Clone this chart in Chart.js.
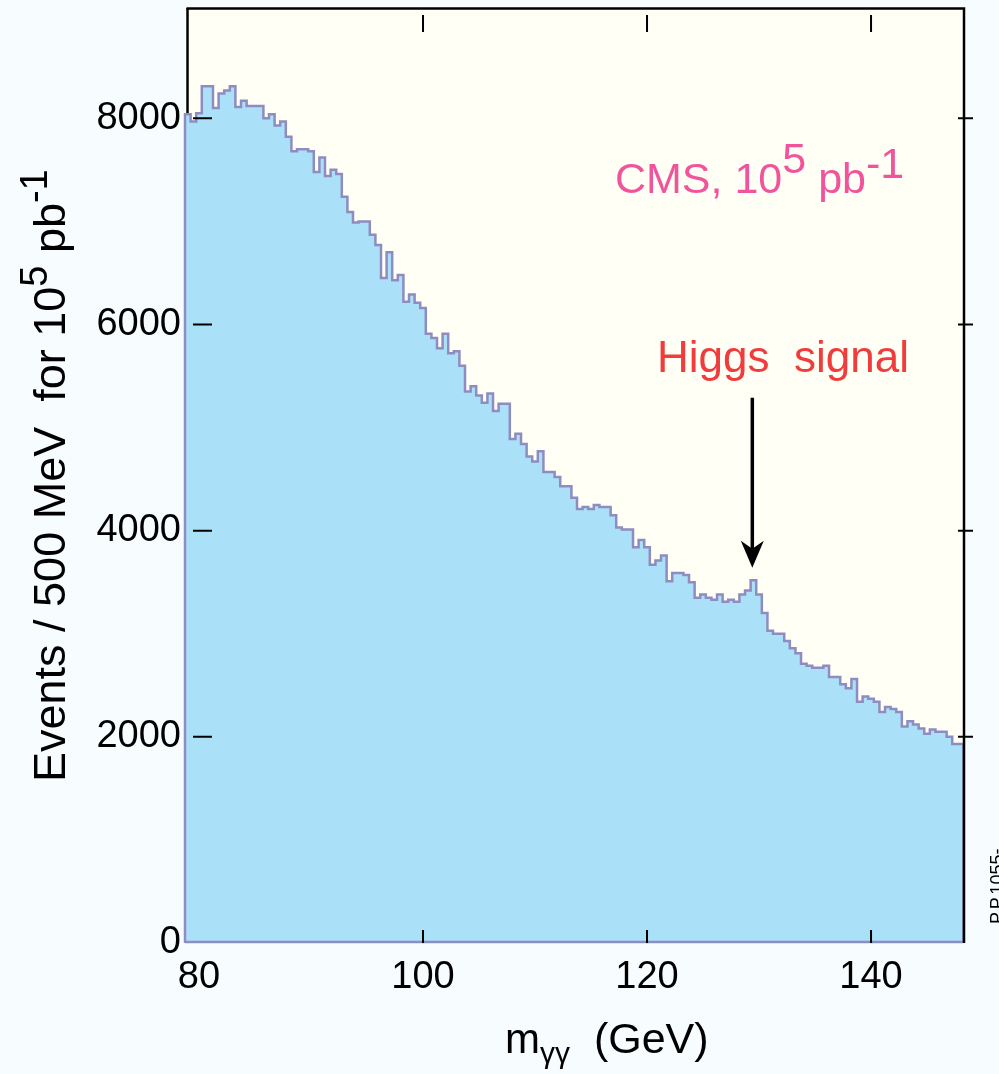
<!DOCTYPE html>
<html lang="en">
<head>
<meta charset="utf-8">
<title>Higgs signal, m_γγ</title>
<script src="https://cdn.jsdelivr.net/npm/chart.js@4/dist/chart.umd.min.js"></script>
<style>
    html, body { margin: 0; padding: 0; background: #f7fdfe; overflow: hidden; }
    canvas { display: block; }
</style>
</head>
<body>
<canvas id="higgs-chart" width="999" height="1074"></canvas>
<script>
// Гистограмма m_γγ: события на бин 500 МэВ для 10^5 pb^-1
const massLow = 78.75;     // ГэВ, левая граница первого бина
const massHigh = 148.3;    // ГэВ, правый край рамки
const binWidth = 0.5;      // ГэВ

const eventsPerBin = [
    8040, 7970, 8050, 8310, 8310, 8100, 8240, 8270, 8310, 8110,
    8170, 8120, 8120, 8120, 8000, 8040, 7930, 7970, 7820, 7680,
    7700, 7700, 7680, 7480, 7620, 7440, 7500, 7460, 7240, 7090,
    6990, 7000, 7000, 6870, 6770, 6450, 6700, 6430, 6480, 6220,
    6290, 6210, 6160, 5910, 5870, 5770, 5910, 5720, 5740, 5600,
    5350, 5400, 5310, 5240, 5330, 5160, 5230, 5230, 4890, 4940,
    4840, 4720, 4670, 4770, 4570, 4570, 4520, 4430, 4430, 4320,
    4210, 4230, 4210, 4250, 4230, 4230, 4150, 4030, 4010, 4010,
    3840, 3910, 3840, 3670, 3710, 3760, 3510, 3590, 3590, 3570,
    3500, 3350, 3380, 3350, 3330, 3380, 3310, 3330, 3310, 3380,
    3420, 3520, 3380, 3200, 3030, 3000, 3000, 2930, 2860, 2810,
    2710, 2690, 2670, 2670, 2690, 2580, 2580, 2510, 2470, 2560,
    2340, 2390, 2370, 2340, 2240, 2290, 2270, 2240, 2100, 2150,
    2120, 2080, 2030, 2070, 2050, 2050, 2000, 1930, 1930
];

const massTicks = [80, 100, 120, 140];
const eventTicks = [0, 2000, 4000, 6000, 8000];
const eventMax = 9070;

// Стрелка "Higgs signal": масса и диапазон по числу событий
const arrowMass = 129.4;
const arrowEvents = [5290, 3640];

const FAMILY = '"Liberation Sans", Arial, Helvetica, sans-serif';

/**
 * Точки ступенчатой линии по левым границам бинов.
 * @returns {Array} - Массив точек {x, y}.
 */
function histogramPoints() {
    const points = [{ x: massLow, y: 0 }];
    eventsPerBin.forEach((n, i) => {
        points.push({ x: massLow + i * binWidth, y: n });
    });
    points.push({ x: massLow + eventsPerBin.length * binWidth, y: 0 });
    return points;
}

/**
 * Рисует строку из кусков с разным размером и сдвигом (индексы).
 * @param {CanvasRenderingContext2D} ctx
 * @param {number} x
 * @param {number} y - базовая линия
 * @param {Array} parts - [{text, size, dy}]
 */
function drawRich(ctx, x, y, parts) {
    let cx = x;
    parts.forEach(p => {
        ctx.font = `${p.size}px ${FAMILY}`;
        ctx.fillText(p.text, cx, y + (p.dy || 0));
        cx += ctx.measureText(p.text).width;
    });
}

// Фон страницы и области графика, левая сторона рамки
const backgroundPlugin = {
    id: 'background',
    beforeDraw(chart) {
        const { ctx, chartArea: a } = chart;
        ctx.save();
        ctx.fillStyle = '#f7fdfe';
        ctx.fillRect(0, 0, chart.width, chart.height);
        ctx.fillStyle = '#fffff5';
        ctx.fillRect(a.left, a.top, a.right - a.left, a.bottom - a.top);
        ctx.strokeStyle = '#000';
        ctx.lineWidth = 2.5;
        ctx.beginPath();
        ctx.moveTo(a.left + 2.5, a.top);
        ctx.lineTo(a.left + 2.5, a.bottom);
        ctx.stroke();
        ctx.restore();
    }
};

// Рамка, засечки, стрелка и подписи поверх гистограммы
const overlayPlugin = {
    id: 'overlay',
    afterDatasetsDraw(chart) {
        const { ctx, chartArea: a, scales: { x, y } } = chart;
        ctx.save();

        // нижняя линия гистограммы
        ctx.strokeStyle = '#8e8cc0';
        ctx.lineWidth = 2.5;
        ctx.beginPath();
        ctx.moveTo(a.left, a.bottom - 1);
        ctx.lineTo(x.getPixelForValue(massLow + eventsPerBin.length * binWidth), a.bottom - 1);
        ctx.stroke();

        // верх и правая сторона рамки
        ctx.strokeStyle = '#000';
        ctx.lineWidth = 2.5;
        ctx.beginPath();
        ctx.moveTo(a.left + 1.5, a.top + 0.5);
        ctx.lineTo(a.right, a.top + 0.5);
        ctx.lineTo(a.right, a.bottom);
        ctx.stroke();

        // засечки
        ctx.lineWidth = 2;
        ctx.beginPath();
        massTicks.forEach(m => {
            const px = x.getPixelForValue(m);
            if (px - a.left < 20) return;
            ctx.moveTo(px, a.top + 7);
            ctx.lineTo(px, a.top + 24);
            ctx.moveTo(px, a.bottom);
            ctx.lineTo(px, a.bottom - 13);
        });
        eventTicks.forEach(n => {
            if (n === 0) return;
            const py = y.getPixelForValue(n);
            ctx.moveTo(a.left + 8, py);
            ctx.lineTo(a.left + 27, py);
            ctx.moveTo(a.right - 6, py);
            ctx.lineTo(a.right + 9, py);
        });
        ctx.stroke();

        // стрелка к пику
        const ax = x.getPixelForValue(arrowMass);
        const aTop = y.getPixelForValue(arrowEvents[0]);
        const aTip = y.getPixelForValue(arrowEvents[1]);
        ctx.lineWidth = 3.5;
        ctx.beginPath();
        ctx.moveTo(ax, aTop);
        ctx.lineTo(ax, aTip - 12);
        ctx.stroke();
        ctx.fillStyle = '#000';
        ctx.beginPath();
        ctx.moveTo(ax - 11.5, aTip - 27);
        ctx.lineTo(ax, aTip - 19);
        ctx.lineTo(ax + 11.5, aTip - 27);
        ctx.lineTo(ax, aTip);
        ctx.closePath();
        ctx.fill();

        // подписи внутри графика
        ctx.textAlign = 'left';
        ctx.textBaseline = 'alphabetic';
        ctx.fillStyle = '#f0559c';
        drawRich(ctx, a.left + 430, a.top + 185, [
            { text: 'CMS, 10', size: 43 },
            { text: '5', size: 43, dy: -20 },
            { text: ' pb', size: 43 },
            { text: '-1', size: 43, dy: -15 }
        ]);
        ctx.fillStyle = '#f03c3c';
        ctx.font = `44px ${FAMILY}`;
        ctx.fillText('Higgs  signal', a.left + 472, a.top + 364);

        ctx.restore();
    },
    afterDraw(chart) {
        const { ctx, chartArea: a } = chart;
        ctx.save();
        ctx.fillStyle = '#000';
        ctx.textAlign = 'left';
        ctx.textBaseline = 'alphabetic';

        // подпись оси Y, повёрнута
        ctx.save();
        ctx.translate(65, 782);
        ctx.rotate(-Math.PI / 2);
        drawRich(ctx, 0, 0, [
            { text: 'Events / 500 MeV  for 10', size: 45 },
            { text: '5', size: 38, dy: -18 },
            { text: ' pb', size: 45 },
            { text: '-1', size: 38, dy: -18 }
        ]);
        ctx.restore();

        // подпись оси X
        drawRich(ctx, 505, a.bottom + 110, [
            { text: 'm', size: 42 },
            { text: 'γγ', size: 30, dy: 10 },
            { text: '  (GeV)', size: 43 }
        ]);

        // служебная пометка справа
        ctx.save();
        ctx.translate(1003, 924);
        ctx.rotate(-Math.PI / 2);
        ctx.font = `18px ${FAMILY}`;
        ctx.fillText('P.P.1055-', 0, 0);
        ctx.restore();

        ctx.restore();
    }
};

document.addEventListener('DOMContentLoaded', function() {
    const ctx = document.getElementById('higgs-chart').getContext('2d');
    const tickFont = { family: FAMILY, size: 38 };

    new Chart(ctx, {
        type: 'line',
        data: {
            datasets: [{
                label: 'Events',
                data: histogramPoints(),
                stepped: true,
                fill: 'origin',
                backgroundColor: '#aae1f8',
                borderColor: '#8e8cc0',
                borderWidth: 2.5,
                borderJoinStyle: 'miter',
                pointRadius: 0,
                tension: 0,
                clip: 6
            }]
        },
        options: {
            responsive: false,
            animation: false,
            devicePixelRatio: 1,
            events: [],
            layout: { padding: { left: 0, right: 35, top: 8, bottom: 0 } },
            plugins: {
                legend: { display: false },
                tooltip: { enabled: false }
            },
            scales: {
                x: {
                    type: 'linear',
                    min: massLow,
                    max: massHigh,
                    afterBuildTicks: axis => { axis.ticks = massTicks.map(v => ({ value: v })); },
                    afterFit: axis => {
                        axis.height = 131;
                        axis.paddingLeft = 0;
                        axis.paddingRight = 0;
                    },
                    grid: { display: false, drawTicks: false },
                    border: { display: false },
                    ticks: {
                        font: tickFont,
                        color: '#000',
                        padding: 12,
                        maxRotation: 0,
                        autoSkip: false,
                        callback: v => String(v)
                    }
                },
                y: {
                    min: 0,
                    max: eventMax,
                    afterBuildTicks: axis => { axis.ticks = eventTicks.map(v => ({ value: v })); },
                    afterFit: axis => {
                        axis.width = 185;
                        axis.paddingTop = 0;
                        axis.paddingBottom = 0;
                    },
                    grid: { display: false, drawTicks: false },
                    border: { display: false },
                    ticks: {
                        font: tickFont,
                        color: '#000',
                        padding: 4,
                        autoSkip: false,
                        callback: v => String(v)
                    }
                }
            }
        },
        plugins: [backgroundPlugin, overlayPlugin]
    });
});
</script>
</body>
</html>
